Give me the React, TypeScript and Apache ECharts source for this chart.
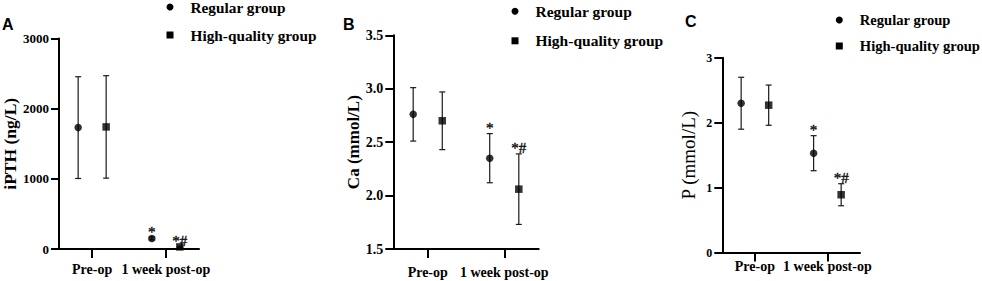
import React, { useEffect, useRef } from 'react';
import * as echarts from 'echarts';

const categories = ['Pre-op', '1 week post-op'];
const groupNames = ['Regular group', 'High-quality group'];

const iPTHRegularMean = [1730, 150];
const iPTHRegularSD = [725, 20];
const iPTHHighMean = [1740, 30];
const iPTHHighSD = [730, 10];

const caRegularMean = [2.76, 2.35];
const caRegularSD = [0.25, 0.23];
const caHighMean = [2.7, 2.06];
const caHighSD = [0.27, 0.33];

const pRegularMean = [2.3, 1.53];
const pRegularSD = [0.4, 0.27];
const pHighMean = [2.27, 0.89];
const pHighSD = [0.31, 0.17];

const regularMarks = ['', '*'];
const highMarks = ['', '*#'];

const iPTHTicks = [0, 1000, 2000, 3000];
const caTicks = [1.5, 2.0, 2.5, 3.0, 3.5];
const pTicks = [0, 1, 2, 3];

const SERIF = '"Liberation Serif", "Times New Roman", serif';
const SANS = '"Liberation Sans", Arial, sans-serif';

const panels = [
  {
    letter: 'A', letterX: 2, letterY: 16,
    grid: { left: 57, top: 38.5, width: 142, height: 210.5 },
    name: 'iPTH (ng/L)', nameWeight: 'bold', nameSize: 17.5, nameGap: 40,
    ticks: iPTHTicks, decimals: 0, tickFont: 13, xLabelMargin: 13,
    reg: { mean: iPTHRegularMean, sd: iPTHRegularSD },
    high: { mean: iPTHHighMean, sd: iPTHHighSD },
    legend: { left: 166.5, top: -0.5, gap: 13, font: 15.3 },
  },
  {
    letter: 'B', letterX: 343, letterY: 16,
    grid: { left: 393.3, top: 35.3, width: 145.4, height: 213.7 },
    name: 'Ca (mmol/L)', nameWeight: 'bold', nameSize: 17, nameGap: 31,
    ticks: caTicks, decimals: 1, tickFont: 14, xLabelMargin: 16,
    reg: { mean: caRegularMean, sd: caRegularSD },
    high: { mean: caHighMean, sd: caHighSD },
    legend: { left: 511.5, top: 3.2, gap: 13.6, font: 15.5 },
  },
  {
    letter: 'C', letterX: 685, letterY: 13,
    grid: { left: 722.3, top: 57.8, width: 137.7, height: 194.7 },
    name: 'P (mmol/L)', nameWeight: 'normal', nameSize: 19, nameGap: 24,
    ticks: pTicks, decimals: 0, tickFont: 12, xLabelMargin: 7,
    reg: { mean: pRegularMean, sd: pRegularSD },
    high: { mean: pHighMean, sd: pHighSD },
    legend: { left: 835.8, top: 12.5, gap: 11, font: 14.6 },
  },
];

const OFFSET = 0.19;

function errorBarSeries(name: string, pi: number, mean: number[], sd: number[], offset: number, marks: string[]) {
  return {
    type: 'custom',
    name,
    xAxisIndex: pi,
    yAxisIndex: pi,
    z: 2,
    itemStyle: { color: '#000' },
    data: mean.map((m, i) => [i + 1 + offset, m - sd[i], m + sd[i]]),
    encode: { x: 0, y: [1, 2] },
    renderItem: (params: any, api: any) => {
      const x = api.value(0);
      const lo = api.value(1);
      const hi = api.value(2);
      const top = api.coord([x, hi]);
      const bot = api.coord([x, lo]);
      const cap = 3;
      const ls = { stroke: '#1a1a1a', lineWidth: 1.2 };
      const children: any[] = [
        { type: 'line', shape: { x1: top[0], y1: top[1], x2: bot[0], y2: bot[1] }, style: ls },
        { type: 'line', shape: { x1: top[0] - cap, y1: top[1], x2: top[0] + cap, y2: top[1] }, style: ls },
        { type: 'line', shape: { x1: bot[0] - cap, y1: bot[1], x2: bot[0] + cap, y2: bot[1] }, style: ls },
      ];
      const mark = marks[params.dataIndex];
      if (mark) {
        children.push({
          type: 'text',
          x: top[0],
          y: top[1] + 2,
          style: {
            text: mark,
            align: 'center',
            verticalAlign: 'bottom',
            fontFamily: SERIF,
            fontSize: 15,
            fill: '#111',
            stroke: '#111',
            lineWidth: 0.4,
          },
        });
      }
      return { type: 'group', children };
    },
  };
}

function scatterSeries(name: string, pi: number, mean: number[], offset: number, symbol: string) {
  return {
    type: 'scatter',
    name,
    xAxisIndex: pi,
    yAxisIndex: pi,
    z: 3,
    symbol,
    symbolSize: 7.5,
    itemStyle: { color: '#000' },
    data: mean.map((m, i) => [i + 1 + offset, m]),
  };
}

export default function App() {
  const ref = useRef<HTMLDivElement>(null);
  useEffect(() => {
    if (!ref.current) return;
    const chart = echarts.init(ref.current, undefined, { renderer: 'svg' });
    const grids: any[] = [];
    const xAxes: any[] = [];
    const yAxes: any[] = [];
    const series: any[] = [];
    const legends: any[] = [];
    const graphics: any[] = [];
    panels.forEach((p, pi) => {
      grids.push({ ...p.grid, containLabel: false });
      xAxes.push({
        type: 'value',
        gridIndex: pi,
        min: 0.55,
        max: 2.45,
        splitLine: { show: false },
        axisLine: { show: true, onZero: false, lineStyle: { color: '#000', width: 2 } },
        axisTick: { show: true, customValues: [1, 2], length: 9, lineStyle: { color: '#000', width: 2 } },
        axisLabel: {
          customValues: [1, 2],
          formatter: (v: number) => categories[Math.round(v) - 1] ?? '',
          margin: p.xLabelMargin,
          fontFamily: SERIF,
          fontWeight: 'bold',
          fontSize: 14,
          color: '#000',
        },
      });
      const t = p.ticks;
      yAxes.push({
        type: 'value',
        gridIndex: pi,
        min: t[0],
        max: t[t.length - 1],
        interval: t[1] - t[0],
        splitLine: { show: false },
        axisLine: { show: true, lineStyle: { color: '#000', width: 2 } },
        axisTick: { show: true, length: 8, lineStyle: { color: '#000', width: 2 } },
        axisLabel: {
          formatter: (v: number) => v.toFixed(p.decimals),
          margin: 10,
          fontFamily: SERIF,
          fontWeight: 'bold',
          fontSize: p.tickFont,
          color: '#000',
        },
        name: p.name,
        nameLocation: 'middle',
        nameGap: p.nameGap,
        nameTextStyle: {
          fontFamily: SERIF,
          fontWeight: p.nameWeight,
          fontSize: p.nameSize,
          color: '#000',
        },
      });
      series.push(errorBarSeries(groupNames[0], pi, p.reg.mean, p.reg.sd, -OFFSET, regularMarks));
      series.push(errorBarSeries(groupNames[1], pi, p.high.mean, p.high.sd, OFFSET, highMarks));
      series.push(scatterSeries(groupNames[0], pi, p.reg.mean, -OFFSET, 'circle'));
      series.push(scatterSeries(groupNames[1], pi, p.high.mean, OFFSET, 'rect'));
      legends.push({
        orient: 'vertical',
        left: p.legend.left,
        top: p.legend.top,
        padding: 0,
        itemWidth: 7,
        itemHeight: 7,
        itemGap: p.legend.gap,
        selectedMode: false,
        itemStyle: { color: '#000' },
        data: [
          { name: groupNames[0], icon: 'circle', itemStyle: { color: '#000' } },
          { name: groupNames[1], icon: 'rect', itemStyle: { color: '#000' } },
        ],
        textStyle: {
          fontFamily: SERIF,
          fontWeight: 'bold',
          fontSize: p.legend.font,
          color: '#000',
          padding: [0, 0, 0, 12],
        },
      });
      graphics.push({
        type: 'text',
        left: p.letterX,
        top: p.letterY,
        style: { text: p.letter, font: `bold 16px ${SANS}`, fill: '#000' },
      });
    });
    chart.setOption({
      animation: false,
      backgroundColor: '#fff',
      color: ['#000', '#000'],
      grid: grids,
      xAxis: xAxes,
      yAxis: yAxes,
      legend: legends,
      series,
      graphic: graphics,
    });
    return () => chart.dispose();
  }, []);
  return <div ref={ref} style={{ position: 'fixed', left: 0, top: 0, width: 982, height: 281 }} />;
}
